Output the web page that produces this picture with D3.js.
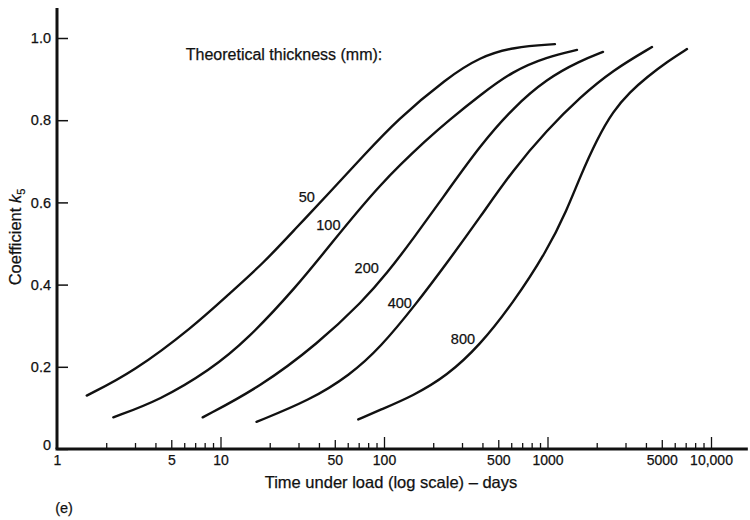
<!DOCTYPE html>
<html><head><meta charset="utf-8">
<script src="https://cdn.jsdelivr.net/npm/d3@7"></script>
<style>
body{margin:0;background:#fff}
text{font-family:"Liberation Sans",Arial,Helvetica,sans-serif;fill:#111;stroke:#111;stroke-width:0.25px}
</style>
</head><body><svg id="c" width="750" height="520"></svg>
<script>
// ---- data ----
const thickness = ["50", "100", "200", "400", "800"];
const t50  = [1.52, 2.92, 6.79, 11.4, 18.3, 29.2, 46.7, 74.7, 119.6, 243, 387, 615, 1110];
const k50  = [0.130, 0.187, 0.297, 0.379, 0.452, 0.539, 0.625, 0.713, 0.800, 0.903, 0.954, 0.978, 0.985];
const t100 = [2.21, 4.27, 8.63, 14.5, 29.2, 46.7, 94.6, 191, 243, 387, 615, 993, 1515];
const k100 = [0.077, 0.119, 0.192, 0.265, 0.395, 0.496, 0.646, 0.760, 0.796, 0.861, 0.920, 0.954, 0.971];
const t200 = [7.78, 17.5, 39.6, 74.7, 104, 150, 243, 387, 615, 993, 1581, 2185];
const k200 = [0.077, 0.151, 0.257, 0.361, 0.427, 0.510, 0.626, 0.738, 0.830, 0.901, 0.944, 0.966];
const t400 = [16.6, 35.3, 61.9, 94.6, 158, 243, 387, 615, 993, 1581, 2517, 4355];
const k400 = [0.066, 0.119, 0.180, 0.246, 0.354, 0.453, 0.564, 0.679, 0.776, 0.856, 0.922, 0.978];
const t800 = [69.6, 94.6, 150, 243, 387, 615, 993, 1316, 1581, 2009, 2517, 3197, 4060, 5383, 7130];
const k800 = [0.072, 0.095, 0.129, 0.178, 0.253, 0.355, 0.482, 0.582, 0.662, 0.754, 0.822, 0.869, 0.905, 0.942, 0.973];
const labelT = [33.7, 45.7, 78.4, 125, 304];
const labelK = [0.614, 0.545, 0.440, 0.355, 0.268];

const xTickValues = [1, 5, 10, 50, 100, 500, 1000, 5000, 10000];
const xTickLabels = ["1", "5", "10", "50", "100", "500", "1000", "5000", "10,000"];
const yTickValues = [0, 0.2, 0.4, 0.6, 0.8, 1.0];
const yTickLabels = ["0", "0.2", "0.4", "0.6", "0.8", "1.0"];
const xAxisMax = 16800;
const yAxisMax = 1.073;

const titleText = "Theoretical thickness (mm):";
const xTitle = "Time under load (log scale) \u2013 days";
const panelTag = "(e)";

// ---- drawing ----
const svg = d3.select("#c");
const x = d3.scaleLog().domain([1, 10000]).range([57, 711]);
const y = d3.scaleLinear().domain([0, 1]).range([449, 38]);
const ink = "#111";

const series = [[t50, k50], [t100, k100], [t200, k200], [t400, k400], [t800, k800]];

// minor/medium/major tick positions
const majors = [], fives = [], minors = [];
for (let e = 0; e <= 4; e++) {
  const p = Math.pow(10, e);
  majors.push(p);
  if (e < 4) for (let m = 2; m <= 9; m++) (m === 5 ? fives : minors).push(m * p);
}

// x ticks pointing up (inside)
const gTicks = svg.append("g").attr("transform", `translate(0,${y(0)})`);
[[minors, 6], [fives, 9], [majors.slice(1), 12]].forEach(([vals, len]) => {
  const ax = d3.axisTop(x).tickValues(vals).tickSize(len).tickFormat("");
  const g = gTicks.append("g").call(ax);
  g.select(".domain").remove();
  g.selectAll(".tick line").attr("stroke", ink).attr("stroke-width", 1.3);
});

// x labels
const gxl = svg.append("g").attr("transform", `translate(0,${y(0)})`)
  .call(d3.axisBottom(x).tickValues(xTickValues).tickSize(0).tickPadding(6)
    .tickFormat((d, i) => xTickLabels[i]));
gxl.select(".domain").remove();
gxl.selectAll("text").attr("font-size", 14).attr("fill", ink)
  .style("font-family", '"Liberation Sans",Arial,sans-serif');

// y axis: ticks pointing right
const gy = svg.append("g").attr("transform", `translate(${x(1)},0)`)
  .call(d3.axisLeft(y).tickValues(yTickValues).tickSize(-11).tickPadding(6)
    .tickFormat((d, i) => yTickLabels[i]));
gy.select(".domain").remove();
gy.selectAll(".tick line").attr("stroke", ink).attr("stroke-width", 1.5);
gy.selectAll("text").attr("font-size", 14.5).attr("fill", ink)
  .style("font-family", '"Liberation Sans",Arial,sans-serif');
gy.selectAll(".tick").filter(d => d === 0).select("text").attr("dy", "0.05em");

// axis lines
svg.append("line").attr("x1", x(1) - 1.5).attr("x2", x(xAxisMax))
  .attr("y1", y(0)).attr("y2", y(0)).attr("stroke", ink).attr("stroke-width", 3);
svg.append("line").attr("x1", x(1)).attr("x2", x(1))
  .attr("y1", y(0)).attr("y2", y(yAxisMax)).attr("stroke", ink).attr("stroke-width", 3);

// curves
const line = d3.line().curve(d3.curveBasis);
series.forEach(([ts, ks]) => {
  svg.append("path")
    .attr("d", line(ts.map((t, i) => [x(t), y(ks[i])])))
    .attr("fill", "none").attr("stroke", ink).attr("stroke-width", 2.4)
    .attr("stroke-linecap", "round");
});

// curve labels
thickness.forEach((lab, i) => {
  svg.append("text").attr("x", x(labelT[i])).attr("y", y(labelK[i]))
    .attr("text-anchor", "middle").attr("dominant-baseline", "central")
    .attr("font-size", 14.5).text(lab);
});

// title
svg.append("text").attr("x", 284).attr("y", 54).attr("text-anchor", "middle")
  .attr("dominant-baseline", "central").attr("font-size", 16).text(titleText);

// x axis title
svg.append("text").attr("x", 391).attr("y", 482).attr("text-anchor", "middle")
  .attr("dominant-baseline", "central").attr("font-size", 16.5).text(xTitle);

// y axis title
const yt = svg.append("text").attr("transform", "translate(21,237) rotate(-90)")
  .attr("text-anchor", "middle").attr("font-size", 16.5);
yt.append("tspan").text("Coefficient ");
yt.append("tspan").attr("font-style", "italic").text("k");
yt.append("tspan").attr("font-size", 11).attr("dy", 4).text("5");

// panel tag
svg.append("text").attr("x", 64).attr("y", 508).attr("text-anchor", "middle")
  .attr("dominant-baseline", "central").attr("font-size", 14.5).text(panelTag);
</script>
</body></html>
